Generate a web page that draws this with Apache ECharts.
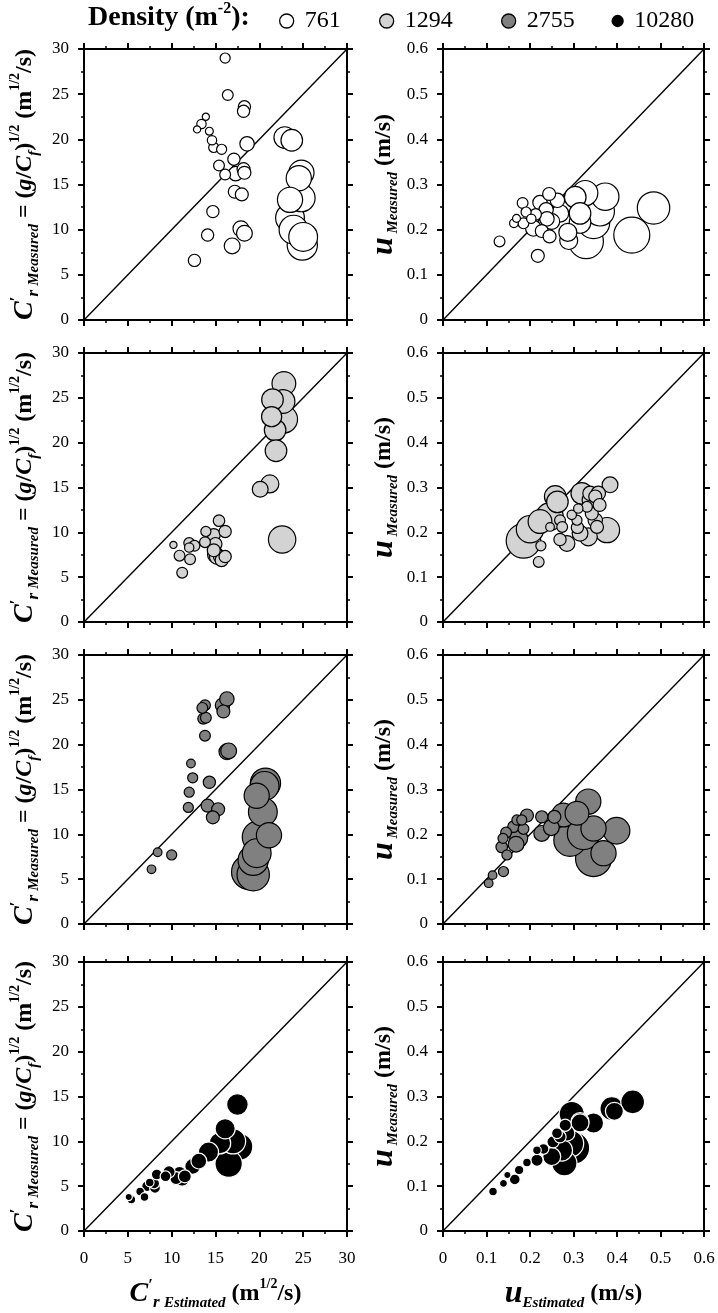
<!DOCTYPE html>
<html><head><meta charset="utf-8">
<script src="https://cdn.jsdelivr.net/npm/echarts@6/dist/echarts.min.js"></script>
<style>html,body{margin:0;padding:0;background:#fff}#c{width:718px;height:1313px}</style>
</head><body><div id="c"></div>
<script>
// ---------- DATA ----------
const densities = ['761', '1294', '2755', '10280'];
const crTicks = [0, 5, 10, 15, 20, 25, 30];
const uTicks = [0, 0.1, 0.2, 0.3, 0.4, 0.5, 0.6];

// Row 1 : density 761
const cr761X = [16.1,16.4,18.3,18.2,13.9,13.4,12.9,14.3,14.6,14.8,15.7,18.6,15.4,17.1,16.1,18.2,18.3,17.3,17.2,18.0,14.7,14.1,17.9,18.3,16.9,12.6,22.9,23.7,24.8,24.5,23.5,24.8,23.5,23.9,24.9,25.0];
const cr761Y = [29.0,24.9,23.6,23.1,22.5,21.7,21.1,20.9,19.9,19.1,18.9,19.5,17.1,17.8,16.1,16.7,16.3,16.2,14.2,13.9,12.0,9.4,10.1,9.6,8.2,6.6,20.2,19.9,16.3,15.7,13.3,13.5,11.3,10.0,8.3,9.2];
const cr761S = [14,15,17,17,10,13,10,11,13,14,14,20,15,17,15,18,18,20,18,18,17,17,22,22,22,17,30,30,35,35,35,38,40,40,42,40];
const u761X = [0.130,0.183,0.163,0.169,0.191,0.185,0.203,0.213,0.208,0.223,0.244,0.263,0.237,0.239,0.250,0.227,0.245,0.218,0.269,0.289,0.287,0.304,0.315,0.327,0.329,0.346,0.373,0.361,0.434,0.484,0.315];
const u761Y = [0.174,0.259,0.214,0.225,0.239,0.214,0.224,0.234,0.203,0.260,0.279,0.265,0.244,0.224,0.218,0.197,0.185,0.142,0.236,0.176,0.194,0.272,0.216,0.281,0.174,0.216,0.273,0.240,0.188,0.248,0.236];
const u761S = [15,15,12,11,14,15,13,16,22,20,18,20,20,20,22,18,18,18,24,25,25,30,30,35,48,45,38,40,50,45,30];

// Row 2 : density 1294
const cr1294X = [22.8,21.5,22.7,21.4,21.8,22.8,21.9,21.2,20.1,22.6,10.2,11.2,10.9,12.0,12.0,12.1,12.6,13.9,13.8,14.8,15.4,16.1,15.0,15.5,16.1,15.7,15.0,15.2,14.8];
const cr1294Y = [26.6,24.8,24.6,22.9,21.4,22.6,19.1,15.4,14.8,9.2,8.6,5.5,7.4,8.8,8.3,7.0,8.5,10.1,8.9,9.7,11.3,10.1,8.7,7.3,7.3,6.9,7.5,7.3,8.0];
const cr1294S = [33,30,33,28,30,38,30,25,22,38,10,15,15,15,13,15,15,14,15,18,16,17,18,18,17,18,22,22,18];
const u1294X = [0.185,0.200,0.223,0.245,0.258,0.263,0.225,0.220,0.246,0.269,0.274,0.269,0.285,0.296,0.311,0.308,0.309,0.319,0.315,0.334,0.331,0.342,0.338,0.350,0.350,0.354,0.360,0.377,0.384,0.357,0.338];
const u1294Y = [0.181,0.207,0.224,0.235,0.280,0.268,0.170,0.134,0.212,0.227,0.212,0.184,0.175,0.239,0.253,0.227,0.211,0.287,0.198,0.190,0.257,0.242,0.287,0.280,0.227,0.212,0.261,0.205,0.306,0.287,0.272];
const u1294S = [48,38,33,38,30,30,14,15,12,15,15,17,22,13,13,14,17,30,22,25,15,18,20,18,20,18,18,35,22,20,22];

// Row 3 : density 2755
const cr2755X = [7.7,8.4,10.0,11.9,12.0,12.4,12.2,13.8,13.6,13.9,13.8,13.5,14.3,14.1,15.3,14.7,15.9,15.8,16.3,16.3,16.5,20.7,20.6,19.7,20.4,21.1,19.9,19.7,19.3,18.8,19.3];
const cr2755Y = [6.1,8.0,7.7,13.0,14.7,16.3,17.9,21.0,22.9,23.0,24.4,24.1,15.8,13.2,12.8,11.9,23.7,24.4,25.1,19.2,19.3,15.7,15.4,14.3,12.5,9.9,9.7,7.9,7.1,5.8,5.5];
const cr2755S = [12,12,14,14,14,14,12,15,15,15,15,15,17,18,18,18,18,20,20,22,22,42,40,35,40,35,45,40,42,48,45];
const u2755X = [0.105,0.114,0.139,0.147,0.135,0.138,0.145,0.162,0.170,0.181,0.193,0.185,0.168,0.174,0.227,0.256,0.227,0.249,0.277,0.308,0.334,0.292,0.323,0.346,0.369,0.346,0.399];
const u2755Y = [0.091,0.109,0.117,0.154,0.172,0.191,0.204,0.217,0.232,0.232,0.242,0.212,0.178,0.191,0.239,0.239,0.202,0.215,0.243,0.247,0.273,0.187,0.202,0.213,0.158,0.146,0.208];
const u2755S = [12,12,14,14,16,14,15,16,14,14,18,15,22,25,17,18,22,22,33,33,35,45,45,35,35,50,37];

// Row 4 : density 10280
const cr10280X = [5.1,5.4,6.4,6.9,7.2,7.5,8.1,8.0,8.3,9.3,9.7,10.5,10.9,11.2,11.5,12.4,13.1,14.2,16.1,17.5,15.5,17.7,17.0,16.5,16.5];
const cr10280Y = [3.8,3.5,4.4,3.8,5.0,5.4,4.8,5.3,6.3,6.1,6.6,5.9,6.4,5.8,6.1,7.2,7.8,8.8,11.4,14.1,9.8,9.4,10.0,7.5,8.2];
const cr10280S = [10,12,12,12,15,12,15,15,15,15,17,18,20,20,18,22,22,28,28,30,30,38,35,38,40];
const u10280X = [0.115,0.139,0.148,0.165,0.175,0.193,0.216,0.216,0.231,0.253,0.269,0.281,0.250,0.279,0.273,0.292,0.300,0.296,0.315,0.315,0.346,0.388,0.394,0.436,0.285,0.262];
const u10280Y = [0.088,0.106,0.125,0.115,0.136,0.153,0.158,0.180,0.183,0.199,0.210,0.236,0.166,0.151,0.180,0.195,0.185,0.261,0.244,0.241,0.241,0.273,0.267,0.288,0.218,0.218];
const u10280S = [12,11,10,15,13,12,17,12,15,17,17,17,25,35,30,38,45,35,25,25,28,33,25,33,22,15];

// ---------- STYLE ----------
const F = 'Liberation Serif';
const fills = { '761': '#ffffff', '1294': '#d3d3d3', '2755': '#808080', '10280': '#000000' };
const strokes = { '761': '#000000', '1294': '#000000', '2755': '#000000', '10280': '#ffffff' };

const panels = [
  { name: '761', kind: 'cr', x: cr761X, y: cr761Y, s: cr761S },
  { name: '761', kind: 'u', x: u761X, y: u761Y, s: u761S },
  { name: '1294', kind: 'cr', x: cr1294X, y: cr1294Y, s: cr1294S },
  { name: '1294', kind: 'u', x: u1294X, y: u1294Y, s: u1294S },
  { name: '2755', kind: 'cr', x: cr2755X, y: cr2755Y, s: cr2755S },
  { name: '2755', kind: 'u', x: u2755X, y: u2755Y, s: u2755S },
  { name: '10280', kind: 'cr', x: cr10280X, y: cr10280Y, s: cr10280S },
  { name: '10280', kind: 'u', x: u10280X, y: u10280Y, s: u10280S }
];

const colLeft = [84, 443], colWidth = [263, 261];
const rowTop = [49, 353, 655, 962], rowHeight = [271, 269, 269, 269];

const rich = {
  C:  { fontFamily: F, fontWeight: 'bold', fontStyle: 'italic', fontSize: 28, lineHeight: 34, verticalAlign: 'middle', color: '#000' },
  U:  { fontFamily: F, fontWeight: 'bold', fontStyle: 'italic', fontSize: 32, lineHeight: 34, verticalAlign: 'middle', color: '#000' },
  pr: { fontFamily: F, fontWeight: 'bold', fontSize: 17, lineHeight: 16, verticalAlign: 'top', color: '#000' },
  r:  { fontFamily: F, fontWeight: 'bold', fontStyle: 'italic', fontSize: 17, lineHeight: 15, verticalAlign: 'bottom', color: '#000' },
  sb: { fontFamily: F, fontWeight: 'bold', fontStyle: 'italic', fontSize: 15, lineHeight: 15, verticalAlign: 'bottom', color: '#000' },
  b:  { fontFamily: F, fontWeight: 'bold', fontSize: 24, lineHeight: 34, verticalAlign: 'middle', color: '#000' },
  bi: { fontFamily: F, fontWeight: 'bold', fontStyle: 'italic', fontSize: 24, lineHeight: 34, verticalAlign: 'middle', color: '#000' },
  sp: { fontFamily: F, fontWeight: 'bold', fontSize: 14, lineHeight: 14, verticalAlign: 'top', color: '#000' }
};

const nameCrY = '{C|C}{pr|′}{r|r }{sb|Measured}{b| = (}{bi|g}{b|/}{bi|C}{sb|f}{b|)}{sp|1/2}{b| (m}{sp|1/2}{b|/s)}';
const nameUY = '{U|u}{sb| Measured}{b| (m/s)}';
const nameCrX = '{C|C}{pr|′}{r|r }{sb|Estimated}{b| (m}{sp|1/2}{b|/s)}';
const nameUX = '{U|u}{sb|Estimated}{b| (m/s)}';

function axisBase(ticks, gridIndex, position, showLabel) {
  const n = ticks.length;
  return {
    type: 'value', gridIndex, position,
    min: ticks[0], max: ticks[n - 1], interval: ticks[1] - ticks[0],
    axisLine: { show: true, onZero: false, lineStyle: { color: '#000', width: 2 } },
    axisTick: { show: true, inside: false, length: 6, lineStyle: { color: '#000', width: 2 } },
    minorTick: { show: true, splitNumber: 2, length: 3, lineStyle: { color: '#000', width: 1.5 } },
    splitLine: { show: false },
    axisLabel: {
      show: showLabel, fontFamily: F, fontSize: 17, color: '#000',
      margin: (position === 'bottom') ? 19 : 15,
      formatter: v => String(+(+v).toFixed(2))
    },
    nameTextStyle: { rich }
  };
}

const grids = [], xAxes = [], yAxes = [], series = [];
panels.forEach((p, g) => {
  const row = Math.floor(g / 2), col = g % 2;
  grids.push({ left: colLeft[col], top: rowTop[row], width: colWidth[col], height: rowHeight[row], outerBoundsMode: 'none', containLabel: false });
  const ticks = p.kind === 'cr' ? crTicks : uTicks;
  const xb = axisBase(ticks, g, 'bottom', row === 3);
  if (row === 3) {
    xb.name = p.kind === 'cr' ? nameCrX : nameUX;
    xb.nameLocation = 'middle';
    xb.nameGap = 46;
  }
  xAxes.push(xb);
  xAxes.push(axisBase(ticks, g, 'top', false));
  const yl = axisBase(ticks, g, 'left', true);
  yl.name = p.kind === 'cr' ? nameCrY : nameUY;
  yl.nameLocation = 'middle';
  yl.nameRotate = 90;
  yl.nameGap = 42;
  yAxes.push(yl);
  yAxes.push(axisBase(ticks, g, 'right', false));

  const lim = ticks[ticks.length - 1];
  series.push({
    type: 'line', xAxisIndex: 2 * g, yAxisIndex: 2 * g, silent: true, z: 1,
    symbol: 'none', data: [[ticks[0], ticks[0]], [lim, lim]],
    lineStyle: { color: '#000', width: 1.4 }
  });
  const pts = p.x.map((x, i) => [x, p.y[i], p.s[i]]).sort((a, b) => b[2] - a[2]);
  series.push({
    type: 'scatter', name: p.name, xAxisIndex: 2 * g, yAxisIndex: 2 * g, z: 2,
    data: pts,
    symbol: 'circle',
    symbolSize: v => v[2] * 0.72,
    itemStyle: { color: fills[p.name], borderColor: strokes[p.name], borderWidth: 1.2, opacity: 1 },
    emphasis: { disabled: true }
  });
});

const legendX = [286, 386, 508, 617];
const legendSize = [14, 14, 14, 11];
const legends = densities.map((d, i) => ({
  left: legendX[i] - legendSize[i] / 2, top: 9, padding: 0,
  itemWidth: legendSize[i], itemHeight: legendSize[i],
  selectedMode: false,
  formatter: name => ' ' + name,
  textStyle: { fontFamily: F, fontSize: 24, color: '#000' },
  data: [{ name: d, icon: 'circle', itemStyle: { color: fills[d], borderColor: '#000', borderWidth: 1.3 } }]
}));

const chart = echarts.init(document.getElementById('c'), null, { renderer: 'canvas' });
chart.setOption({
  animation: false,
  backgroundColor: '#fff',
  title: {
    left: 88, top: 1, padding: 0,
    text: '{t|Density (m}{s|-2}{t|):}',
    textStyle: {
      rich: {
        t: { fontFamily: F, fontWeight: 'bold', fontSize: 28, lineHeight: 34, verticalAlign: 'middle', color: '#000' },
        s: { fontFamily: F, fontWeight: 'bold', fontSize: 16, lineHeight: 16, verticalAlign: 'top', color: '#000' }
      }
    }
  },
  legend: legends,
  grid: grids,
  xAxis: xAxes,
  yAxis: yAxes,
  series
});
</script></body></html>
